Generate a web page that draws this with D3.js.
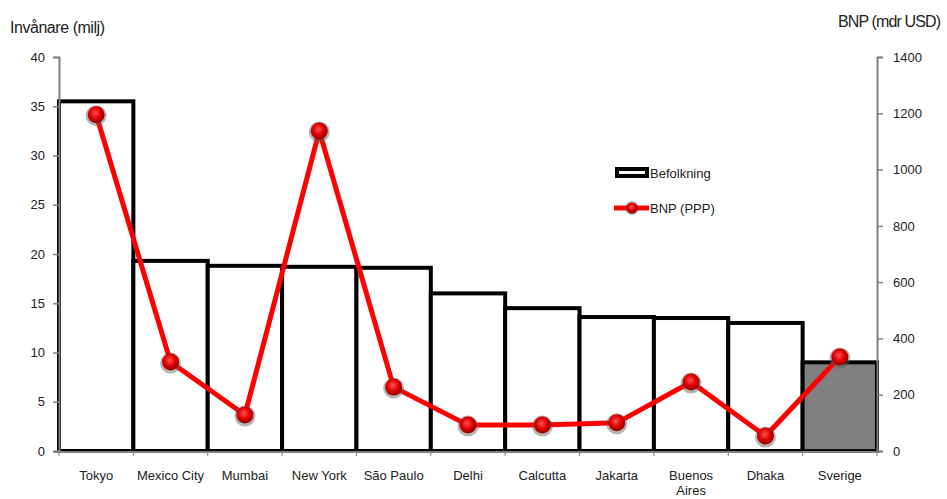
<!DOCTYPE html>
<html><head><meta charset="utf-8">
<script src="https://cdn.jsdelivr.net/npm/d3@7"></script>
<style>body{margin:0;background:#fff}svg{display:block}text{font-family:"Liberation Sans",Arial,sans-serif;fill:#222}</style>
</head><body><svg id="c" width="947" height="499"></svg>
<script>
const categories=["Tokyo","Mexico City","Mumbai","New York","São Paulo","Delhi","Calcutta","Jakarta","Buenos Aires","Dhaka","Sverige"];
const population=[35.5,19.3,18.8,18.7,18.6,16.0,14.5,13.6,13.5,13.0,9.0];
const gdp=[1195,316,128,1137,227,92,92,100,245,53,334];
const leftTicks=[0,5,10,15,20,25,30,35,40];
const rightTicks=[0,200,400,600,800,1000,1200,1400];

const svg=d3.select("#c");
const L=59,R=877,T=57,B=451;
const x=d3.scaleBand().domain(categories).range([L,R]).padding(0);
const yL=d3.scaleLinear().domain([0,40]).range([B,T]);
const yR=d3.scaleLinear().domain([0,1400]).range([B,T]);

const defs=svg.append("defs");
const g=defs.append("radialGradient").attr("id","mk").attr("cx","45%").attr("cy","40%").attr("r","60%");
g.append("stop").attr("offset","0%").attr("stop-color","#ff5050");
g.append("stop").attr("offset","55%").attr("stop-color","#e00000");
g.append("stop").attr("offset","100%").attr("stop-color","#900000");

// bars
svg.append("g").selectAll("rect").data(categories).join("rect")
 .attr("x",d=>x(d)).attr("width",x.bandwidth())
 .attr("y",(d,i)=>yL(population[i])).attr("height",(d,i)=>B-yL(population[i]))
 .attr("fill",(d,i)=>d==="Sverige"?"#808080":"#fff")
 .attr("stroke","#000").attr("stroke-width",4);

// axes
const axL=svg.append("g").attr("transform",`translate(${L},0)`).call(d3.axisLeft(yL).tickValues(leftTicks).tickSize(6).tickPadding(8));
const axR=svg.append("g").attr("transform",`translate(${R},0)`).call(d3.axisRight(yR).tickValues(rightTicks).tickFormat(d3.format("d")).tickSize(6).tickPadding(10));
[axL,axR].forEach(a=>{a.select(".domain").attr("stroke","#808080").attr("stroke-width",2);a.selectAll(".tick line").attr("stroke","#808080").attr("stroke-width",1.5);a.selectAll("text").attr("font-size",13).attr("fill","#222").attr("font-family","Liberation Sans, Arial");});

// x axis
svg.append("line").attr("x1",L-5).attr("x2",R).attr("y1",B+1).attr("y2",B+1).attr("stroke","#808080").attr("stroke-width",2);
const bounds=categories.map(c=>x(c)).concat([R]);
svg.append("g").selectAll("line").data(bounds).join("line").attr("x1",d=>d).attr("x2",d=>d).attr("y1",B+1).attr("y2",B+5).attr("stroke","#808080").attr("stroke-width",1);
const xl=svg.append("g").selectAll("text").data(categories).join("text")
 .attr("x",d=>x(d)+x.bandwidth()/2).attr("y",480).attr("text-anchor","middle").attr("font-size",13);
xl.each(function(d){const t=d3.select(this);if(d==="Buenos Aires"){t.append("tspan").attr("x",x(d)+x.bandwidth()/2).text("Buenos");t.append("tspan").attr("x",x(d)+x.bandwidth()/2).attr("dy",15).text("Aires");}else t.text(d);});

// line
const line=d3.line().x((d,i)=>x(categories[i])+x.bandwidth()/2).y(d=>yR(d));
svg.append("path").datum(gdp).attr("d",line).attr("fill","none").attr("stroke","#ff0000").attr("stroke-width",5);
function marker(sel){sel.append("circle").attr("r",10.5).attr("cy",1).attr("fill","rgba(90,90,90,0.45)");sel.append("circle").attr("r",8.5).attr("fill","url(#mk)");}
svg.append("g").selectAll("g").data(gdp).join("g").attr("transform",(d,i)=>`translate(${x(categories[i])+x.bandwidth()/2},${yR(d)})`).call(marker);

// legend
svg.append("rect").attr("x",617).attr("y",169).attr("width",30).attr("height",7).attr("fill","#fff").attr("stroke","#000").attr("stroke-width",4);
svg.append("text").attr("x",650).attr("y",178).attr("font-size",13).text("Befolkning");
svg.append("line").attr("x1",614).attr("x2",649).attr("y1",208).attr("y2",208).attr("stroke","#ff0000").attr("stroke-width",5);
svg.append("g").attr("transform","translate(632,208)").call(s=>{s.append("circle").attr("r",7).attr("fill","rgba(90,90,90,0.45)");s.append("circle").attr("r",5.5).attr("fill","url(#mk)");});
svg.append("text").attr("x",650).attr("y",213).attr("font-size",13).text("BNP (PPP)");

// titles
svg.append("text").attr("x",10).attr("y",33).attr("font-size",16).attr("textLength",95).text("Invånare (milj)");
svg.append("text").attr("x",838).attr("y",27).attr("font-size",16).attr("textLength",103).text("BNP (mdr USD)");
</script></body></html>
